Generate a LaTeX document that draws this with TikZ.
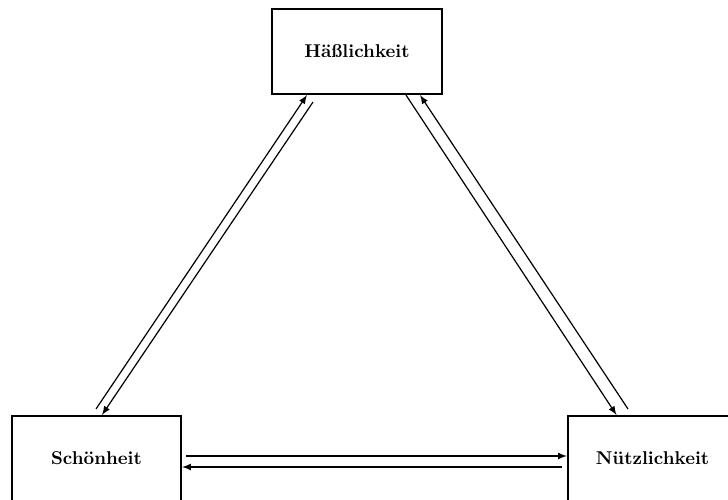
\documentclass[tikz,border=0pt]{standalone}
\begin{document}
\begin{tikzpicture}[>=latex,x=0.54pt,y=-0.54pt,
        box/.style={draw,line width=1.1pt,minimum width=91.3pt,minimum height=45.9pt,font=\bfseries},
        arr/.style={->,line width=0.65pt}]
        \useasboundingbox (0,0) rectangle (728,500);
        %boxes
        \node[box] (hae) at (357,51.5) {Häßlichkeit};
        \node[box] (sch) at (96.5,458.5) {Schönheit};
        \node[box] (nue) at (652.5,458.5) {Nützlichkeit};
        %left side
        \draw[arr] ([shift={(-0.5,-6)}]sch.north) -- ([shift={(-50,0)}]hae.south);
        \draw[arr] ([shift={(-44,7)}]hae.south) -- ([shift={(5.5,0)}]sch.north);
        %right side
        \draw[arr] ([shift={(49,0)}]hae.south) -- ([shift={(-36,0)}]nue.north);
        \draw[arr] ([shift={(-24.5,-6)}]nue.north) -- ([shift={(63,0)}]hae.south);
        %bottom
        \draw[arr] ([shift={(4,-2.5)}]sch.east) -- ([shift={(0,-2.5)}]nue.west);
        \draw[arr] ([shift={(-5,8.5)}]nue.west) -- ([shift={(0,8.5)}]sch.east);
    \end{tikzpicture}
\end{document}
